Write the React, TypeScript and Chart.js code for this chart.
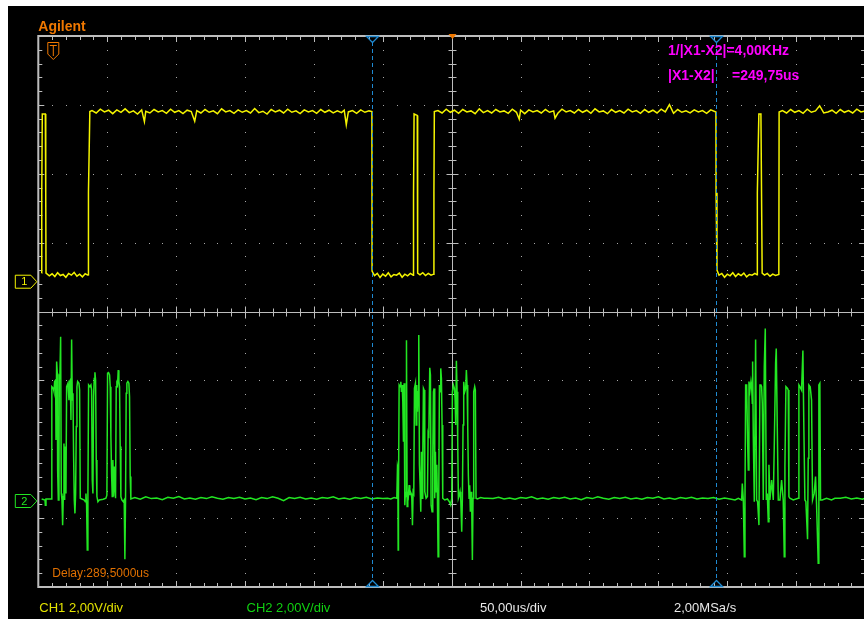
import React, { useEffect, useRef } from "react";
import { Chart, registerables } from "chart.js";

Chart.register(...registerables);

// ---- screen settings (time in µs across the 12 divisions, volts at 2 V/div) ----
const TIME_RANGE_US = [0, 600];
const VOLT_RANGE = [-8, 8];
const CH1_OFFSET_V = 0.865;
const CH2_OFFSET_V = -5.503;
const CURSOR_TIMES_US = [242.1, 491.85];

// ---- channel 1 (yellow) samples: [time µs, volts] ----
const ch1Start: [number, number][] = [
  [2.4, 0.25], [2.5, 2.52], [2.9, 4.87], [5.1, 4.87], [5.4, 2.52], [5.6, 0.25],
  [8, 0.17], [10, 0.23], [12, 0.15], [14, 0.26], [16, 0.18], [18, 0.21], [20, 0.13], [22, 0.24],
  [24, 0.19], [26, 0.27], [28, 0.16], [30, 0.22], [32, 0.14], [34, 0.23], [36, 0.19], [36.2, 0.2],
  [36.4, 2.6], [37.4, 4.94],
];
const ch1High1: [number, number][] = [
  [39, 4.97], [42, 4.9], [45, 5.01], [48, 4.93], [51, 4.98], [54, 4.88], [57, 4.99], [60, 4.92],
  [63, 5.02], [66, 4.91], [69, 4.96], [72, 4.87], [75, 4.99], [77, 4.65], [78, 4.95], [81, 4.9],
  [84, 5.0], [87, 4.93], [90, 4.97], [93, 4.89], [96, 5.01], [99, 4.92], [102, 4.97], [105, 4.88],
  [108, 4.98], [111, 4.94], [113.5, 4.66], [115, 4.97], [118, 4.9], [121, 5.0], [124, 4.92],
  [127, 4.96], [130, 4.88], [133, 5.02], [136, 4.93], [139, 4.97], [142, 4.89], [145, 4.99],
  [148, 4.92], [151, 4.97], [154, 4.9], [157, 5.03], [160, 4.91], [163, 4.95], [166, 4.87],
  [169, 5.0], [172, 4.93], [175, 4.98], [178, 4.9], [181, 5.01], [184, 4.92], [187, 4.96],
  [190, 4.88], [193, 4.99], [196, 4.93], [199, 4.97], [202, 4.89], [205, 5.0], [208, 4.92],
  [211, 4.98], [214, 4.9], [217, 4.96], [220, 4.91], [222, 4.98], [223.5, 4.56], [225, 4.93],
  [228, 4.97], [231, 4.89], [234, 4.99], [237, 4.92], [240, 4.96], [242.1, 4.94],
];
const ch1Low2: [number, number][] = [
  [242.2, 0.31], [244, 0.18], [246, 0.24], [248, 0.12], [250, 0.22], [252, 0.16], [254, 0.26],
  [256, 0.14], [258, 0.21], [260, 0.19], [262, 0.25], [264, 0.13], [266, 0.22], [268, 0.17],
  [270, 0.24], [272.1, 0.19], [272.3, 2.5], [272.7, 4.87], [275.0, 4.83], [275.3, 0.25],
  [277, 0.2], [279, 0.26], [281, 0.18], [283, 0.24], [285, 0.19], [286.9, 0.22], [287.1, 2.6],
  [287.4, 4.94],
];
const ch1High2: [number, number][] = [
  [290, 4.97], [293, 4.9], [296, 5.01], [299, 4.92], [302, 4.98], [305, 4.89], [308, 5.0],
  [311, 4.93], [314, 4.96], [317, 4.88], [320, 5.02], [323, 4.91], [326, 4.97], [329, 4.9],
  [332, 5.0], [335, 4.93], [338, 4.96], [341, 4.89], [344, 5.01], [347, 4.92], [349, 4.72],
  [350, 4.98], [353, 4.88], [356, 4.99], [359, 4.93], [362, 4.97], [365, 4.9], [368, 5.0],
  [371, 4.92], [374, 4.96], [375, 4.75], [377, 4.89], [380, 5.01], [383, 4.93], [386, 4.97],
  [389, 4.9], [392, 5.0], [395, 4.92], [398, 4.98], [401, 4.89], [404, 5.02], [407, 4.93],
  [410, 4.96], [413, 4.88], [416, 5.0], [419, 4.92], [422, 4.97], [425, 4.9], [428, 5.01],
  [431, 4.93], [434, 4.97], [437, 4.89], [440, 5.0], [443, 4.92], [446, 4.98], [449, 4.9],
  [452, 5.01], [455, 4.93], [458, 5.14], [461, 4.89], [464, 5.0], [467, 4.92], [470, 4.96],
  [473, 4.9], [476, 4.99], [479, 4.93], [482, 4.97], [485, 4.89], [488, 4.99], [491.75, 4.93],
];
const ch1Low3: [number, number][] = [
  [491.85, 2.58], [492.5, 0.34], [494, 0.19], [496, 0.24], [498, 0.13], [500, 0.22], [502, 0.17],
  [504, 0.26], [506, 0.15], [508, 0.23], [510, 0.18], [512, 0.25], [514, 0.14], [516, 0.21],
  [518, 0.19], [520, 0.24], [521.6, 0.2], [521.8, 2.58], [522.9, 4.87], [524.4, 4.87],
  [525.3, 0.25], [527, 0.19], [529, 0.24], [531, 0.16], [533, 0.22], [535, 0.18], [537.4, 0.21],
  [537.6, 4.93],
];
const ch1High3: [number, number][] = [
  [540, 4.97], [543, 4.9], [546, 5.0], [549, 4.92], [552, 4.97], [555, 4.89], [558, 5.01],
  [561, 4.92], [564, 4.96], [567, 5.11], [570, 4.9], [573, 4.93], [576, 4.98], [579, 4.89],
  [582, 5.0], [585, 4.92], [588, 4.97], [591, 4.9], [594, 5.01], [597, 4.93], [600, 4.96],
];

// ---- channel 2 (green) samples: [time µs, volts] ----
const ch2Burst1: [number, number][] = [
  [2.44, 0.06], [4.86, 0.03], [5.1, -0.12], [5.58, 0.06], [9.44, 0.06], [9.69, 0.08], [9.93, 3.32],
  [10.89, 3.27], [11.38, 3.18], [11.86, 3.47], [12.58, 3.51], [12.83, 1.77], [13.31, 4.05],
  [13.79, 3.71], [14.03, 0.9], [14.52, 0.03], [15.0, 0.8], [15.24, 3.66], [15.72, 3.71],
  [16.21, 4.77], [16.69, 0.22], [17.17, 0.03], [17.66, -0.7], [18.14, 0.13], [18.62, 1.67],
  [19.11, 0.03], [19.59, 1.58], [20.07, 0.22], [20.56, 3.32], [21.52, 3.42], [22.25, 2.93],
  [22.73, 3.47], [23.21, 3.51], [23.7, 2.35], [24.18, 4.69], [24.66, 2.93], [25.14, 3.13],
  [25.63, 1.29], [26.11, 0.03], [26.59, -0.36], [27.08, 0.22], [27.56, 2.16], [28.04, 3.32],
  [28.53, 3.47], [29.49, 3.42], [29.98, 3.22], [30.46, 0.08], [33.36, 0.03], [34.08, -0.02],
  [34.56, 0.22], [35.05, -0.12], [35.53, -1.42], [36.01, 0.22], [36.5, 3.37], [37.46, 3.32],
  [38.19, 3.37], [38.67, 3.22], [39.15, 0.61], [39.64, 0.22], [40.12, 3.03], [40.6, 3.56],
  [41.09, 3.74], [41.57, 3.51], [42.05, 1.19], [42.54, 0.13], [43.26, -0.02], [44.23, 0.03],
  [47.13, 0.05], [49.06, 0.08], [49.78, 0.17], [50.27, 3.71], [50.99, 3.73], [51.72, 3.66],
  [52.2, 3.32], [52.68, 1.87], [53.17, 0.8], [53.65, 0.13], [54.13, 1.19], [54.61, 0.13],
  [55.1, 1.0], [55.58, 0.42], [56.06, 0.08], [56.55, 3.32], [57.03, 3.42], [57.51, 3.37],
  [58.0, 3.8], [58.48, 3.47], [58.96, 3.32], [59.44, 1.58], [59.93, 0.13], [60.65, 0.03],
  [61.62, -0.02], [62.34, 0.03], [62.83, -1.69], [63.31, 0.03], [63.79, 3.13], [64.27, 3.42],
  [65.0, 3.47], [65.72, 3.42], [66.21, 3.03], [66.69, 0.71], [67.17, 0.06],
];
const ch2Idle1: [number, number][] = [
  [70, 0.1], [74, 0.05], [78, 0.12], [82, 0.07], [86, 0.09], [90, 0.04], [94, 0.11], [98, 0.08],
  [102, 0.13], [106, 0.06], [110, 0.09], [114, 0.05], [118, 0.1], [122, 0.07], [126, 0.12],
  [130, 0.08], [134, 0.05], [138, 0.1], [142, 0.07], [146, 0.11], [150, 0.06], [154, 0.09],
  [158, 0.04], [162, 0.1], [166, 0.07], [170, 0.12], [174, 0.08], [178, 0.01], [182, 0.1],
  [186, 0.07], [190, 0.11], [194, 0.06], [198, 0.09], [202, 0.05], [206, 0.1], [210, 0.08],
  [214, 0.12], [218, 0.06], [222, 0.09], [226, 0.05], [230, 0.1], [234, 0.07], [238, 0.11],
  [242, 0.06], [246, 0.09], [250, 0.07],
];
const ch2Burst2: [number, number][] = [
  [253.41, 0.08], [255.82, 0.06], [258.24, 0.1], [260.17, 0.08], [260.65, 1.0], [260.89, 0.95],
  [261.14, -1.42], [261.38, 0.08], [261.86, 3.37], [262.58, 3.32], [263.07, 3.46], [263.55, 3.17],
  [264.03, 3.37], [264.52, 2.88], [265.0, 1.72], [265.48, 3.42], [265.97, -0.12], [266.45, 0.27],
  [266.93, 0.13], [267.18, 4.67], [267.66, -0.16], [268.14, 0.27], [268.62, 0.17], [269.11, 0.46],
  [269.59, 0.17], [270.07, 0.27], [270.56, 0.22], [271.04, 0.08], [271.52, -0.7], [272.01, 0.27],
  [272.49, 0.22], [272.97, 3.27], [273.7, 3.42], [274.18, 2.21], [274.66, 3.37], [275.14, 2.59],
  [275.63, 3.17], [276.11, 4.82], [276.59, 1.05], [277.08, 0.46], [277.56, -0.31], [278.04, 1.43],
  [278.53, 0.08], [279.01, 1.24], [279.49, 3.27], [279.98, 3.22], [280.46, 0.27], [281.43, 0.08],
  [282.39, 0.13], [282.87, 1.92], [283.36, 1.82], [284.08, 3.87], [284.57, 3.66], [285.05, -0.12],
  [285.77, -0.31], [286.26, 1.24], [286.74, 3.17], [287.22, 3.27], [287.71, 0.08], [288.19, 1.43],
  [288.67, 0.27], [289.16, 1.05], [289.64, 0.08], [290.12, -1.62], [290.6, 0.08], [291.09, 3.37],
  [291.57, 3.17], [292.05, 3.85], [292.54, 3.56], [293.02, 2.21], [293.5, 0.08], [294.95, 0.03],
  [296.88, 0.06], [298.33, -0.02], [299.3, -0.12], [300.02, 0.08], [300.51, 3.17], [301.23, 3.37],
  [301.96, 3.27], [302.44, 2.98], [302.92, 2.21], [303.41, 4.07], [303.89, 3.17], [304.37, 1.72],
  [304.86, 0.08], [305.58, 0.17], [306.06, 0.27], [306.55, 0.08], [307.27, -0.89], [307.75, 0.08],
  [308.24, 2.21], [308.72, 3.46], [309.45, 3.17], [310.17, 3.27], [310.65, 3.8], [311.14, 3.37],
  [311.62, 2.21], [312.1, 0.75], [312.59, 0.08], [313.07, 0.46], [313.55, -0.31], [314.03, 0.27],
  [314.52, -0.12], [315.0, -1.71], [315.48, 0.08], [315.97, 3.17], [316.69, 3.32], [317.17, 3.22],
  [317.66, 0.08], [318.62, 0.06], [321.04, 0.1], [323.45, 0.08], [325.87, 0.08],
];
const ch2Idle2: [number, number][] = [
  [330, 0.07], [334, 0.11], [338, 0.06], [342, 0.09], [346, 0.05], [350, 0.1], [354, 0.08],
  [358, 0.12], [362, 0.06], [366, 0.09], [370, 0.05], [374, 0.1], [378, 0.07], [382, 0.11],
  [386, 0.06], [390, 0.09], [394, 0.04], [398, 0.1], [402, 0.07], [406, 0.12], [410, 0.08],
  [414, 0.05], [418, 0.1], [422, 0.07], [426, 0.11], [430, 0.06], [434, 0.09], [438, 0.05],
  [442, 0.1], [446, 0.08], [450, 0.12], [454, 0.06], [458, 0.09], [462, 0.05], [466, 0.1],
  [470, 0.07], [474, 0.11], [478, 0.06], [482, 0.09], [486, 0.07], [490, 0.1], [494, 0.05],
  [498, 0.09], [502, 0.06],
];
const ch2Burst3: [number, number][] = [
  [505.58, 0.03], [508.0, 0.08], [510.41, 0.03], [510.89, 0.51], [511.62, 0.03], [512.34, -1.62],
  [512.83, 0.03], [513.31, 3.37], [514.03, 3.37], [514.76, 1.67], [515.24, 0.9], [515.72, 3.47],
  [516.45, 3.22], [517.17, 3.47], [517.66, 3.32], [518.14, 2.84], [518.38, 4.05], [518.86, 1.87],
  [519.59, -0.02], [520.55, 4.69], [521.28, 0.03], [522.0, -0.02], [522.97, -0.7], [523.7, 3.37],
  [524.42, 3.37], [524.9, 3.32], [525.39, 2.84], [526.11, 0.03], [526.84, 3.9], [527.56, 5.01],
  [528.29, 0.03], [529.01, 0.22], [529.73, -0.6], [530.22, 1.05], [530.94, 0.03], [532.15, 0.61],
  [533.36, 0.03], [534.08, 1.58], [535.05, 4.0], [535.53, 4.43], [536.26, 2.16], [536.98, 0.03],
  [538.19, 0.03], [539.4, 0.61], [540.6, 0.03], [541.33, -1.62], [541.81, 1.0], [542.54, 3.32],
  [543.75, 3.27], [544.23, 3.22], [544.71, 0.13], [545.44, 0.08], [547.85, 0.03], [551.47, 0.08],
  [551.96, 3.37], [552.68, 3.32], [553.89, 3.22], [554.86, 4.37], [555.58, 2.06], [556.31, 0.03],
  [557.03, -0.02], [558.24, -1.11], [558.72, 1.24], [559.2, 3.37], [560.17, 3.32], [561.14, 2.93],
  [561.86, 0.03], [563.07, 0.22], [564.03, 0.71], [564.76, -0.07], [565.97, -1.81], [566.45, 3.37],
  [567.17, 3.42], [567.66, 0.03], [568.87, 0.03], [572.0, 0.08], [575.63, 0.03], [578.04, 0.08],
];
const ch2Idle3: [number, number][] = [
  [582, 0.08], [586, 0.11], [590, 0.06], [594, 0.09], [598, 0.05], [600, 0.08],
];

// ---- text read-outs ----
const BRAND = "Agilent";
const READOUT_FREQ = "1/|X1-X2|=4,00KHz";
const READOUT_DX_LABEL = "|X1-X2|";
const READOUT_DX_VALUE = "=249,75us";
const DELAY_LABEL = "Delay:289,5000us";
const CH1_SCALE_LABEL = "CH1 2,00V/div";
const CH2_SCALE_LABEL = "CH2 2,00V/div";
const TIMEBASE_LABEL = "50,00us/div";
const SAMPLE_RATE_LABEL = "2,00MSa/s";

const FONT = "'Liberation Sans', Arial, sans-serif";
const YELLOW = "#f4f400";
const GREEN = "#22e622";
const ORANGE = "#f07800";
const MAGENTA = "#ff00ff";
const CURSOR_BLUE = "#1f8ad2";
const GRID = "#bdbdbd";

const toPoints = (segs: [number, number][][], offset: number) =>
  segs.flat().map(([x, v]) => ({ x, y: v + offset }));

const graticule = {
  id: "graticule",
  beforeDatasetsDraw(chart: any) {
    const { ctx } = chart;
    const xs = chart.scales.x;
    const ys = chart.scales.y;
    const L = xs.getPixelForValue(TIME_RANGE_US[0]);
    const R = xs.getPixelForValue(TIME_RANGE_US[1]);
    const T = ys.getPixelForValue(VOLT_RANGE[1]);
    const B = ys.getPixelForValue(VOLT_RANGE[0]);
    const dx = (R - L) / 12;
    const dy = (B - T) / 8;
    ctx.save();
    ctx.fillStyle = "#a8a8a8";
    for (let i = 1; i < 12; i++) {
      if (i === 6) continue;
      const x = Math.round(L + i * dx);
      for (let j = 1; j < 40; j++) ctx.fillRect(x, Math.round(T + (j * dy) / 5), 1, 1);
    }
    for (let j = 1; j < 8; j++) {
      if (j === 4) continue;
      const y = Math.round(T + j * dy);
      for (let i = 1; i < 60; i++) ctx.fillRect(Math.round(L + (i * dx) / 5), y, 1, 1);
    }
    const cx = Math.round(L + 6 * dx) + 0.5;
    const cy = Math.round(T + 4 * dy) + 0.5;
    ctx.strokeStyle = GRID;
    ctx.lineWidth = 1;
    ctx.beginPath();
    ctx.moveTo(cx, T);
    ctx.lineTo(cx, B);
    ctx.moveTo(L, cy);
    ctx.lineTo(R, cy);
    for (let j = 1; j < 40; j++) {
      const y = Math.round(T + (j * dy) / 5) + 0.5;
      const len = j % 5 === 0 ? 6 : 4;
      ctx.moveTo(cx - len, y);
      ctx.lineTo(cx + len, y);
      ctx.moveTo(L, y);
      ctx.lineTo(L + len, y);
      ctx.moveTo(R, y);
      ctx.lineTo(R - len, y);
    }
    for (let i = 1; i < 60; i++) {
      const x = Math.round(L + (i * dx) / 5) + 0.5;
      const len = i % 5 === 0 ? 6 : 4;
      ctx.moveTo(x, cy - len);
      ctx.lineTo(x, cy + len);
      ctx.moveTo(x, T);
      ctx.lineTo(x, T + len);
      ctx.moveTo(x, B);
      ctx.lineTo(x, B - len);
    }
    ctx.stroke();
    ctx.lineWidth = 2;
    ctx.strokeRect(L, T, R - L, B - T);
    ctx.restore();
  },
};

const drawChannelMarker = (ctx: any, L: number, y: number, color: string, label: string) => {
  ctx.strokeStyle = color;
  ctx.fillStyle = color;
  ctx.lineWidth = 1;
  ctx.beginPath();
  ctx.moveTo(L - 23, y - 6.5);
  ctx.lineTo(L - 7.5, y - 6.5);
  ctx.lineTo(L - 1.5, y);
  ctx.lineTo(L - 7.5, y + 6.5);
  ctx.lineTo(L - 23, y + 6.5);
  ctx.closePath();
  ctx.stroke();
  ctx.font = `11px ${FONT}`;
  ctx.textAlign = "center";
  ctx.textBaseline = "middle";
  ctx.fillText(label, L - 14, y + 0.5);
};

const overlay = {
  id: "scopeOverlay",
  afterDatasetsDraw(chart: any) {
    const { ctx } = chart;
    const xs = chart.scales.x;
    const ys = chart.scales.y;
    const L = xs.getPixelForValue(TIME_RANGE_US[0]);
    const R = xs.getPixelForValue(TIME_RANGE_US[1]);
    const T = ys.getPixelForValue(VOLT_RANGE[1]);
    const B = ys.getPixelForValue(VOLT_RANGE[0]);
    ctx.save();
    // cursors
    ctx.strokeStyle = CURSOR_BLUE;
    ctx.lineWidth = 1;
    for (const t of CURSOR_TIMES_US) {
      const x = Math.round(xs.getPixelForValue(t)) + 0.5;
      ctx.setLineDash([4, 3]);
      ctx.beginPath();
      ctx.moveTo(x, T + 6);
      ctx.lineTo(x, B - 6);
      ctx.stroke();
      ctx.setLineDash([]);
      ctx.lineWidth = 1.3;
      ctx.beginPath();
      ctx.moveTo(x - 6, T + 0.5);
      ctx.lineTo(x + 6, T + 0.5);
      ctx.lineTo(x, T + 6.5);
      ctx.closePath();
      ctx.moveTo(x - 6, B - 0.5);
      ctx.lineTo(x + 6, B - 0.5);
      ctx.lineTo(x, B - 6.5);
      ctx.closePath();
      ctx.stroke();
      ctx.lineWidth = 1;
    }
    // trigger position marker (centre of screen)
    const cx = Math.round((L + R) / 2) + 0.5;
    ctx.fillStyle = ORANGE;
    ctx.beginPath();
    ctx.moveTo(cx - 4, T - 2);
    ctx.lineTo(cx + 4, T - 2);
    ctx.lineTo(cx, T + 3);
    ctx.closePath();
    ctx.fill();
    // trigger level icon
    ctx.strokeStyle = ORANGE;
    ctx.lineWidth = 1;
    ctx.beginPath();
    ctx.moveTo(L + 9.5, T + 6.5);
    ctx.lineTo(L + 20.5, T + 6.5);
    ctx.lineTo(L + 20.5, T + 18);
    ctx.lineTo(L + 15, T + 23.5);
    ctx.lineTo(L + 9.5, T + 18);
    ctx.closePath();
    ctx.moveTo(L + 11.5, T + 9.5);
    ctx.lineTo(L + 18.5, T + 9.5);
    ctx.moveTo(L + 15, T + 9.5);
    ctx.lineTo(L + 15, T + 20);
    ctx.stroke();
    // channel ground markers
    drawChannelMarker(ctx, L, ys.getPixelForValue(CH1_OFFSET_V), YELLOW, "1");
    drawChannelMarker(ctx, L, ys.getPixelForValue(CH2_OFFSET_V), GREEN, "2");
    ctx.restore();
  },
  afterDraw(chart: any) {
    const { ctx } = chart;
    const xs = chart.scales.x;
    const ys = chart.scales.y;
    const L = xs.getPixelForValue(TIME_RANGE_US[0]);
    const T = ys.getPixelForValue(VOLT_RANGE[1]);
    const B = ys.getPixelForValue(VOLT_RANGE[0]);
    ctx.save();
    ctx.textAlign = "left";
    ctx.textBaseline = "alphabetic";
    ctx.fillStyle = ORANGE;
    ctx.font = `bold 14px ${FONT}`;
    ctx.fillText(BRAND, L, T - 5);
    ctx.fillStyle = MAGENTA;
    ctx.fillText(READOUT_FREQ, 660, T + 19);
    ctx.fillText(READOUT_DX_LABEL, 660, T + 44);
    ctx.fillText(READOUT_DX_VALUE, 724, T + 44);
    ctx.fillStyle = "#e07000";
    ctx.font = `12px ${FONT}`;
    ctx.fillText(DELAY_LABEL, L + 14, B - 10);
    ctx.font = `13px ${FONT}`;
    ctx.fillStyle = "#e2e200";
    ctx.fillText(CH1_SCALE_LABEL, L + 1, B + 25);
    ctx.fillStyle = "#10d010";
    ctx.fillText(CH2_SCALE_LABEL, 238.5, B + 25);
    ctx.fillStyle = "#e8e8e8";
    ctx.fillText(TIMEBASE_LABEL, 472, B + 25);
    ctx.fillText(SAMPLE_RATE_LABEL, 666, B + 25);
    ctx.restore();
  },
};

export default function App() {
  const ref = useRef<HTMLCanvasElement>(null);
  useEffect(() => {
    document.body.style.overflow = "hidden";
    const canvas = ref.current;
    if (!canvas) return;
    const chart = new Chart(canvas, {
      type: "line",
      data: {
        datasets: [
          {
            label: "CH1",
            data: toPoints([ch1Start, ch1High1, ch1Low2, ch1High2, ch1Low3, ch1High3], CH1_OFFSET_V),
            borderColor: YELLOW,
            borderWidth: 1.5,
            pointRadius: 0,
            tension: 0,
            fill: false,
          },
          {
            label: "CH2",
            data: toPoints([ch2Burst1, ch2Idle1, ch2Burst2, ch2Idle2, ch2Burst3, ch2Idle3], CH2_OFFSET_V),
            borderColor: GREEN,
            borderWidth: 1.5,
            pointRadius: 0,
            tension: 0,
            fill: false,
          },
        ],
      },
      options: {
        animation: false,
        responsive: false,
        devicePixelRatio: 1,
        events: [],
        layout: { padding: { left: 30.3, top: 30, right: 12.9, bottom: 32 } },
        scales: {
          x: { type: "linear", min: TIME_RANGE_US[0], max: TIME_RANGE_US[1], display: false },
          y: { type: "linear", min: VOLT_RANGE[0], max: VOLT_RANGE[1], display: false },
        },
        plugins: { legend: { display: false }, tooltip: { enabled: false }, title: { display: false } },
      },
      plugins: [graticule, overlay],
    } as any);
    return () => chart.destroy();
  }, []);
  return (
    <div
      style={{
        position: "fixed",
        left: 8,
        top: 6,
        width: 856,
        height: 613,
        overflow: "hidden",
        background: "#000",
      }}
    >
      <canvas ref={ref} width={870} height={613} style={{ display: "block", width: 870, height: 613 }} />
    </div>
  );
}
